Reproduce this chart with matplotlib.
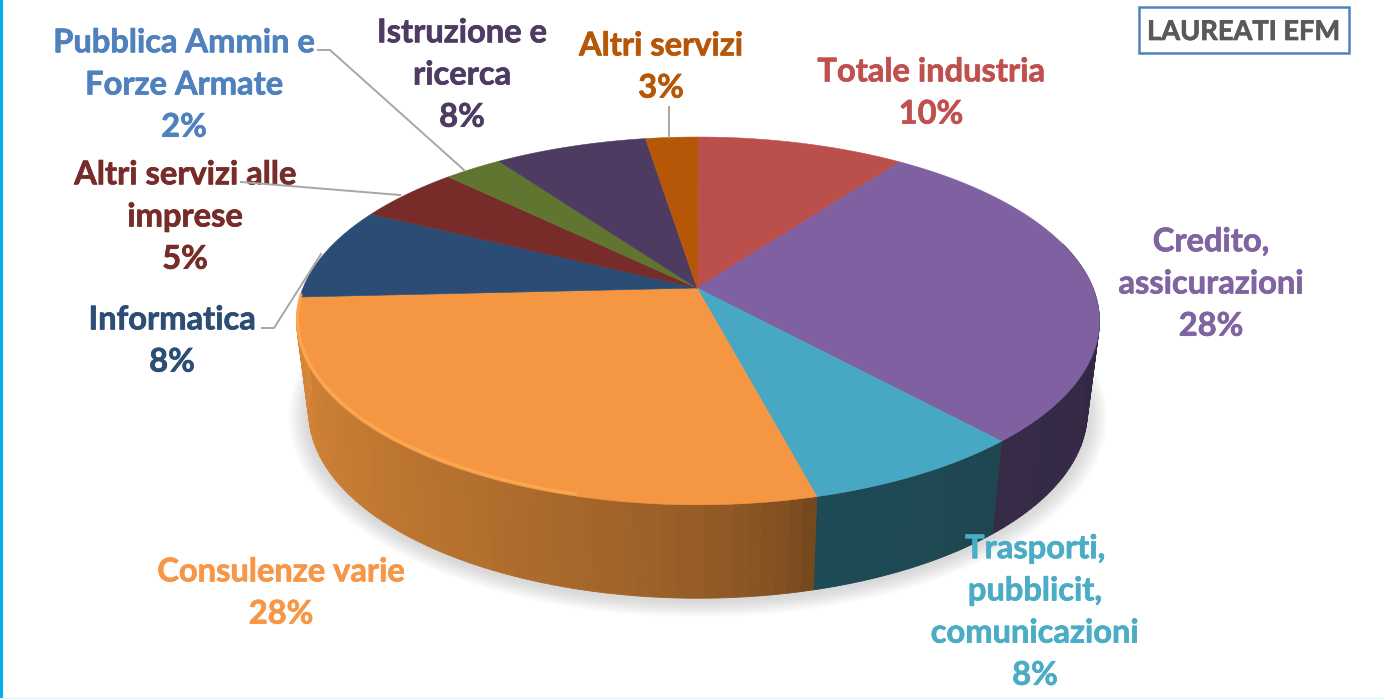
import numpy as np
import matplotlib.pyplot as plt
import matplotlib.patheffects as pe
from matplotlib.patches import Rectangle

plt.rcParams['font.family'] = ['Lato', 'DejaVu Sans']

# slices, clockwise from 12 o'clock (sizes as measured on the drawn disc)
values = [9.95, 28.45, 7.6, 28.2, 8.2, 5.0, 2.8, 7.3, 2.5]
face_colors = ['#bb4f4c', '#7f60a0', '#48a8c3', '#f49642', '#2b4c74',
               '#772c2a', '#5f7530', '#4d3b62', '#b65708']
side_left = ['#7a3230', '#362a47', '#1d4a55', '#d98838', '#1c3350',
             '#4d1d1b', '#3e4c20', '#32263f', '#763805']
side_right = ['#7a3230', '#2f2640', '#1f444e', '#6b411b', '#1c3350',
              '#4d1d1b', '#3e4c20', '#32263f', '#763805']

labels = ['Totale industria\n10%', 'Credito,\nassicurazioni\n28%',
          'Trasporti,\npubblicit,\ncomunicazioni\n8%', 'Consulenze varie\n28%',
          'Informatica\n8%', 'Altri servizi alle\nimprese\n5%',
          'Pubblica Ammin e\nForze Armate\n2%', 'Istruzione e\nricerca\n8%',
          'Altri servizi\n3%']
label_colors = ['#c0504d', '#8064a2', '#4bacc6', '#f79646', '#2c4d75',
                '#772c2a', '#4f81bd', '#4d3b62', '#b65708']
label_x = [931, 1211, 1035, 281, 172, 185, 184, 462, 661]
label_y = [93, 284, 612, 593, 341, 217, 85, 75, 67]

leaders = [([318, 330, 464], [50, 50, 170]),
           ([241, 400], [182, 195]),
           ([262, 274, 321], [328, 328, 254]),
           ([669, 669], [107, 137])]

box_title = 'LAUREATI EFM'


def project(theta, radius, height, y0):
    # tilted disc with some perspective: the back is squeezed, the front stretched
    w = 1 + 0.179 * np.cos(theta)
    return 698 + radius * np.sin(theta) / w, y0 - height * np.cos(theta) / w


def top_rim(theta):
    return project(theta, 395, 178, 288)


def low_rim(theta):
    return project(theta, 383, 180, 379)


def mix(c1, c2, t):
    a = np.array(plt.matplotlib.colors.to_rgb(c1))
    b = np.array(plt.matplotlib.colors.to_rgb(c2))
    return tuple(a + (b - a) * t)


fig = plt.figure(figsize=(13.84, 6.99), dpi=100)
ax = fig.add_axes([0, 0, 1, 1])
ax.set_xlim(0, 1384)
ax.set_ylim(699, 0)
ax.axis('off')

edges = np.radians(np.cumsum([0] + values) * 3.6)

# soft shadow under the disc
full = np.linspace(0, 2 * np.pi, 240)
for grow in range(14, 0, -1):
    sx, sy = project(full, 383 + grow * 1.4, 180 + grow * 1.0, 381)
    ax.fill(sx, sy, color='#8c8c8c', alpha=0.022, lw=0, zorder=1)

# side wall, thin strips so it can shade from left to right
for i in range(len(values)):
    lo = max(edges[i], np.radians(75))
    hi = min(edges[i + 1], edges[4])
    if hi <= lo:
        continue
    steps = np.linspace(lo, hi, 60)
    for k in range(len(steps) - 1):
        t = np.array([steps[k], steps[k + 1]])
        x1, y1 = top_rim(t)
        x2, y2 = low_rim(t)
        col = mix(side_right[i], side_left[i], ((k + 0.5) / (len(steps) - 1)) ** 0.5)
        ax.fill([x1[0], x1[1], x2[1], x2[0]], [y1[0], y1[1], y2[1], y2[0]],
                color=col, lw=0.6, zorder=2)

# top faces
for i in range(len(values)):
    t = np.linspace(edges[i], edges[i + 1], 80)
    x, y = top_rim(t)
    ax.fill(np.r_[697, x], np.r_[288, y], color=face_colors[i], lw=0.4, zorder=3)

# light bevel on the left part of the orange slice
t = np.linspace(np.radians(195), edges[4], 100)
x, y = top_rim(t)
ax.plot(x + 1, y - 2, color='#fbaa52', lw=2.2, alpha=0.9, zorder=4)

for lx, ly in leaders:
    ax.plot(lx, ly, color='#a6a6a6', lw=1.4, zorder=6)

for name, col, x, y in zip(labels, label_colors, label_x, label_y):
    ax.text(x, y, name, color=col, fontsize=23.5, fontweight='bold',
            ha='center', va='center', linespacing=1.55, zorder=5,
            path_effects=[pe.withStroke(linewidth=0.5, foreground=col)])

# box top right
ax.add_patch(Rectangle((1139, 7), 210, 46, fc='white', ec='#4f81bd', lw=1.8, zorder=5))
ax.text(1244, 32, box_title, color='#595959', fontsize=19.6, fontweight='bold',
        ha='center', va='center', zorder=6,
        path_effects=[pe.withStroke(linewidth=0.5, foreground='#595959')])

# cyan frame pieces on the edges of the screenshot
ax.add_patch(Rectangle((0, 0), 2.5, 699, fc='#00b0f0', ec='none', zorder=7))
ax.add_patch(Rectangle((0, 697.8), 1384, 1.2, fc='#d9f3fc', ec='none', zorder=7))

fig.savefig('out.png', dpi=100)
